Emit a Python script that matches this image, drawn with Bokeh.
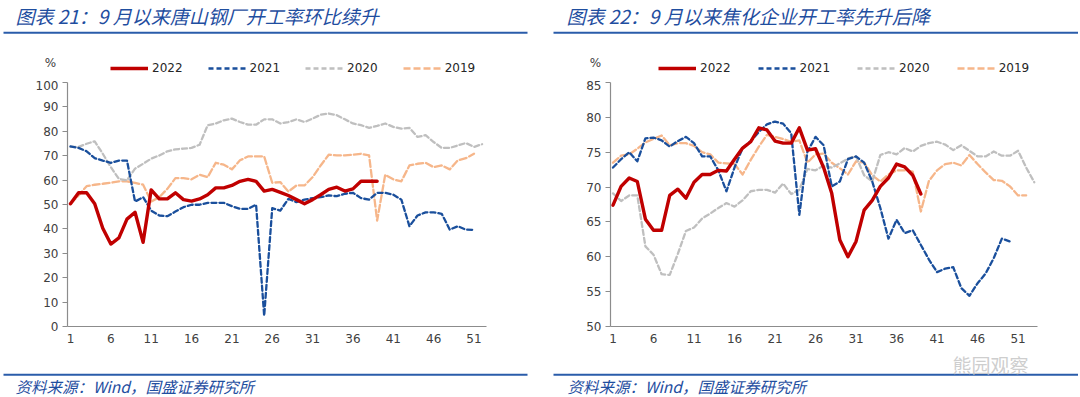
from bokeh.plotting import figure
from bokeh.models import Range1d, FixedTicker, Label, BoxAnnotation, Legend, LegendItem
from bokeh.layouts import row, column
from bokeh.embed import file_html
from bokeh.resources import INLINE

# ---------------- data ----------------
series_names = ["2022", "2021", "2020", "2019"]
x_tick_labels = [1, 6, 11, 16, 21, 26, 31, 36, 41, 46, 51]

# 图表21：唐山钢厂开工率 (%)
steel_2022 = [50.3, 54.8, 54.8, 50.3, 40.3, 33.8, 36.3, 44.0, 46.8, 34.5, 56.0, 52.3, 52.3, 54.8, 52.0,
              51.4, 52.3, 54.0, 56.8, 56.8, 57.8, 59.5, 60.3, 59.5, 55.5, 56.2, 55.0, 53.7, 52.0, 50.3,
              52.0, 54.0, 56.2, 57.1, 55.5, 56.4, 59.5, 59.5, 59.5]
steel_2021 = [73.8, 73.2, 71.8, 69.0, 68.0, 67.1, 68.0, 68.0, 51.2, 53.0, 47.5, 45.5, 45.2, 47.1, 48.9,
              49.9, 49.9, 50.7, 50.7, 50.7, 49.3, 48.2, 48.2, 49.9, 4.4, 48.5, 47.5, 52.3, 51.0, 52.0,
              52.6, 53.0, 53.7, 53.4, 54.4, 54.8, 52.6, 52.0, 54.8, 54.8, 54.0, 52.0, 41.1, 45.5, 46.8,
              46.8, 46.2, 39.7, 41.1, 39.7, 39.6]
steel_2020 = [73.6, 73.6, 74.9, 75.9, 70.8, 65.3, 60.5, 59.9, 64.7, 66.7, 68.8, 70.1, 71.8, 72.6, 72.9,
              73.2, 74.5, 82.5, 83.2, 84.5, 85.2, 83.8, 82.7, 82.7, 84.9, 84.9, 83.2, 83.8, 84.9, 83.8,
              85.2, 86.8, 87.3, 86.6, 84.9, 83.2, 82.5, 81.4, 82.2, 83.2, 81.8, 81.1, 81.4, 77.7, 78.4,
              75.6, 73.2, 73.2, 74.2, 75.2, 73.6, 74.7]
steel_2019 = [50.3, 53.7, 57.5, 58.1, 58.5, 58.9, 59.5, 59.5, 58.9, 58.1, 51.2, 53.0, 56.4, 60.8, 60.8,
              60.3, 62.2, 61.2, 67.1, 66.3, 64.4, 68.1, 69.7, 69.7, 69.7, 58.9, 59.2, 55.3, 57.8, 57.8,
              61.2, 66.0, 70.4, 70.1, 70.1, 70.4, 70.8, 70.1, 43.4, 62.2, 60.3, 59.5, 66.0, 66.7, 67.1,
              65.3, 66.0, 64.4, 68.1, 69.0, 70.8]
steel_y_ticks = [0, 10, 20, 30, 40, 50, 60, 70, 80, 90, 100]

# 图表22：焦化企业开工率 (%)
coke_2022 = [67.4, 70.1, 71.3, 70.8, 65.4, 63.8, 63.8, 68.8, 69.7, 68.4, 70.7, 71.8, 71.8, 72.4, 72.3,
             74.0, 75.6, 76.5, 78.5, 78.2, 76.6, 76.3, 76.3, 78.5, 75.3, 75.5, 72.8, 69.1, 62.4, 60.0,
             62.2, 66.7, 68.1, 70.1, 71.3, 73.3, 72.9, 71.7, 69.0]
coke_2021 = [72.8, 74.0, 75.0, 73.7, 77.0, 77.1, 76.7, 75.8, 76.6, 77.2, 76.3, 74.4, 74.4, 72.4, 69.4,
             72.8, 75.6, 76.6, 77.9, 79.0, 79.4, 79.1, 77.7, 66.0, 75.1, 77.2, 76.0, 70.1, 70.8, 74.0,
             74.4, 73.5, 70.8, 67.0, 62.6, 65.3, 63.4, 63.8, 61.7, 59.6, 57.8, 58.3, 58.5, 55.5, 54.4,
             56.2, 57.6, 59.8, 62.6, 62.2]
coke_2020 = [69.1, 68.0, 68.8, 68.8, 61.5, 60.3, 57.5, 57.4, 60.4, 63.7, 64.2, 65.5, 66.2, 67.0, 67.7,
             67.2, 68.1, 69.4, 69.6, 69.6, 69.2, 70.5, 69.0, 69.6, 72.6, 72.4, 73.1, 72.8, 73.4, 74.1,
             74.4, 71.7, 70.8, 74.6, 75.0, 74.7, 75.6, 75.1, 75.9, 76.3, 76.5, 76.1, 75.3, 76.0, 75.2,
             74.4, 74.4, 75.1, 74.5, 74.5, 75.2, 72.8, 70.7]
coke_2019 = [73.5, 74.5, 74.7, 75.5, 76.4, 76.9, 77.4, 76.0, 76.3, 76.3, 75.9, 75.0, 74.7, 73.5, 73.4,
             73.3, 71.8, 73.9, 75.8, 77.5, 77.2, 76.9, 76.5, 76.7, 73.5, 74.7, 74.8, 73.5, 72.7, 71.8,
             73.7, 73.5, 71.7, 70.8, 71.8, 72.4, 72.4, 72.2, 66.5, 70.9, 72.4, 73.3, 73.5, 73.1, 74.6,
             73.3, 72.1, 71.0, 70.9, 70.1, 68.8, 68.8]
coke_y_ticks = [50, 55, 60, 65, 70, 75, 80, 85]

title_left = "图表 21：9 月以来唐山钢厂开工率环比续升"
title_right = "图表 22：9 月以来焦化企业开工率先升后降"
source_text = "资料来源：Wind，国盛证券研究所"
unit_text = "%"
watermark_text = "熊园观察"

# ---------------- styles ----------------
STYLES = {
    "2022": dict(line_color="#C00000", line_width=3.4, line_dash="solid"),
    "2021": dict(line_color="#1A4F9C", line_width=2.3, line_dash="5 3"),
    "2020": dict(line_color="#BFBFBF", line_width=2.3, line_dash="5 3"),
    "2019": dict(line_color="#F6B68A", line_width=2.3, line_dash="7 3"),
}
CJK = "Noto Sans CJK SC"
NUM = "DejaVu Sans"
BLUE_TXT = "#1F4E9F"
RULE = "#2A5CAA"
TOTAL_W = 1078
LEFT_W = 540
RIGHT_W = TOTAL_W - LEFT_W


def blank_strip(height, top_page):
    """A full-width strip whose data coordinates equal page pixels (y negated)."""
    s = figure(width=TOTAL_W, height=height, output_backend="svg", toolbar_location=None,
               x_range=Range1d(0, TOTAL_W), y_range=Range1d(-(top_page + height), -top_page),
               x_axis_type=None, y_axis_type=None, min_border=0)
    s.title.visible = False
    s.outline_line_color = None
    s.grid.visible = False
    return s


def add_rule(fig, x0, x1, y_page):
    fig.add_layout(BoxAnnotation(left=x0, right=x1, top=-(y_page - 1), bottom=-(y_page + 1),
                                 fill_color=RULE, fill_alpha=1.0, line_color=None))


# ---------------- header (titles, rules, unit, legends) ----------------
HEADER_TOP, HEADER_H = 0, 80
header = blank_strip(HEADER_H, HEADER_TOP)
for tx, text in [(15, title_left), (566, title_right)]:
    header.add_layout(Label(x=tx, y=-15, text=text, text_font=CJK, text_font_size="19px",
                            text_font_style="italic", text_color=BLUE_TXT, text_baseline="middle"))
add_rule(header, 3, 527, 32.3)
add_rule(header, 553, TOTAL_W, 32.3)
for ux in (50, 595):
    header.add_layout(Label(x=ux, y=-62, text=unit_text, text_font=NUM, text_font_size="12px",
                            text_color="#404040", text_baseline="middle", text_align="center"))

# legend keys (styled like the series; no visible data of their own)
key_renderers = {}
for name in series_names:
    st = STYLES[name]
    key_renderers[name] = header.line(x=[float("nan")], y=[float("nan")], line_color=st["line_color"],
                                      line_width=st["line_width"], line_dash=st["line_dash"])
for (lx, sp) in [(110, 25), (658, 27)]:
    legend = Legend(items=[LegendItem(label=n, renderers=[key_renderers[n]]) for n in series_names],
                    orientation="horizontal", location=(lx, 4), padding=0, margin=0,
                    spacing=sp, glyph_width=38, glyph_height=16, label_height=16, label_standoff=4,
                    label_text_font=NUM, label_text_font_size="12px", label_text_color="#262626",
                    background_fill_alpha=0, border_line_color=None)
    header.add_layout(legend)


# ---------------- charts ----------------
CHART_H = 270  # page y 80 .. 350


def make_chart(series, y_range, y_ticks, x_range, width, borders):
    p = figure(width=width, height=CHART_H, output_backend="svg", toolbar_location=None,
               x_range=Range1d(*x_range), y_range=Range1d(*y_range),
               min_border_left=borders[0], min_border_right=borders[1],
               min_border_top=borders[2], min_border_bottom=borders[3])
    p.title.visible = False
    p.outline_line_color = None
    p.grid.visible = False

    for ax in (p.xaxis[0], p.yaxis[0]):
        ax.axis_line_color = "#8C8C8C"
        ax.axis_line_width = 1.2
        ax.major_label_text_font = NUM
        ax.major_label_text_font_size = "12px"
        ax.major_label_text_color = "#404040"
        ax.minor_tick_line_color = None
        ax.major_tick_line_color = "#8C8C8C"
    p.xaxis.ticker = FixedTicker(ticks=x_tick_labels)
    p.xaxis.major_tick_out = 0
    p.xaxis.major_tick_in = 0
    p.xaxis.major_label_standoff = 7
    p.yaxis.ticker = FixedTicker(ticks=y_ticks)
    p.yaxis.major_tick_out = 5
    p.yaxis.major_tick_in = 0
    p.yaxis.major_label_standoff = 4

    for name in ["2019", "2020", "2021", "2022"]:
        vals = series[name]
        weeks = list(range(1, len(vals) + 1))
        st = STYLES[name]
        p.line(weeks, vals, line_color=st["line_color"], line_width=st["line_width"],
               line_dash=st["line_dash"], line_join="round", line_cap="round")
    return p


left = make_chart({"2022": steel_2022, "2021": steel_2021, "2020": steel_2020, "2019": steel_2019},
                  (0, 100), steel_y_ticks, (0.63, 52.55), LEFT_W, (67, 54, 2, 24))
right = make_chart({"2022": coke_2022, "2021": coke_2021, "2020": coke_2020, "2019": coke_2019},
                   (50, 85), coke_y_ticks, (0.69, 53.4), RIGHT_W, (70, 41, 2, 23))

# ---------------- footer (rules, source, watermark) ----------------
FOOT_TOP = HEADER_TOP + HEADER_H + CHART_H
FOOT_H = 396 - FOOT_TOP
footer = blank_strip(FOOT_H, FOOT_TOP)
add_rule(footer, 3, 527, 374.3)
add_rule(footer, 553, TOTAL_W, 374.3)
for sx in (15, 567):
    footer.add_layout(Label(x=sx, y=-385, text=source_text, text_font=CJK, text_font_size="15.5px",
                            text_font_style="italic", text_color=BLUE_TXT, text_baseline="middle"))
footer.add_layout(Label(x=990, y=-364, text=watermark_text, text_font=CJK, text_font_size="19px",
                        text_color="#C8C8C8", text_baseline="middle", text_align="center",
                        text_alpha=0.9))

layout = column(header, row(left, right, spacing=0), footer, spacing=0)
open("out.html", "w").write(file_html(layout, INLINE))
